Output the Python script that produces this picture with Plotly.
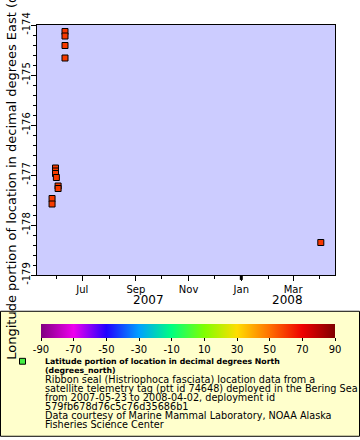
import plotly.graph_objects as go

# ---- data ----
times = ["2007-05-27", "2007-05-27", "2007-05-31", "2007-05-31", "2007-05-31",
         "2007-06-01", "2007-06-03", "2007-06-03", "2007-06-11", "2007-06-11",
         "2007-06-11", "2007-06-11", "2008-04-02"]
lon = [-177.47, -177.58, -176.86, -176.92, -176.97,
       -177.05, -177.22, -177.27, -174.13, -174.22,
       -174.41, -174.66, -178.35]
lat = [59.5, 59.4, 59.8, 59.7, 59.7, 59.6, 59.5, 59.5, 60.1, 60.0, 59.9, 59.8, 60.2]

y_ticks = [-179, -178, -177, -176, -175, -174]
y_tick_text = ["-179", "-178", "-177", "-176", "-175", "-174"]
cbar_ticks = [-90, -70, -50, -30, -10, 10, 30, 50, 70, 90]
cbar_tick_text = ["-90", "-70", "-50", "-30", "-10", "10", "30", "50", "70", "90"]
year_labels = ["2007", "2008"]
year_pos = ["2007-09-16", "2008-02-24"]

legend_title_lines = [
    "<b>Latitude portion of location in decimal degrees North</b>",
    "<b>(degrees_north)</b>",
]
legend_lines = [
    "Ribbon seal (Histriophoca fasciata) location data from a",
    "satellite telemetry tag (ptt id 74648) deployed in the Bering Sea",
    "from 2007-05-23 to 2008-04-02, deployment id",
    "579fb678d76c5c76d35686b1",
    "Data courtesy of Marine Mammal Laboratory, NOAA Alaska",
    "Fisheries Science Center",
]
ytitle = "Longitude portion of location in decimal degrees East (degrees_east)"

# ---- layout geometry (pixels) ----
W, H = 360, 440
L, R, T, B = 37, 335, 20, 275
PW, PH = R - L, B - T


def px_x(p):
    return (p - L) / PW


def px_y(p):
    return (B - p) / PH


FONT = "DejaVu Sans"

colorscale = [
    [0 / 9, "#800080"], [1 / 9, "#ee00ee"], [2 / 9, "#2000ff"], [3 / 9, "#00a0ff"],
    [4 / 9, "#00ff80"], [5 / 9, "#80ff00"], [6 / 9, "#ffdd00"], [7 / 9, "#ff7000"],
    [8 / 9, "#ee0000"], [9 / 9, "#800000"],
]

fig = go.Figure()
fig.add_trace(go.Scatter(
    x=times, y=lon, mode="markers",
    marker=dict(
        symbol="square", size=6, color=lat, colorscale=colorscale,
        cmin=-90, cmax=90, line=dict(color="black", width=1),
        colorbar=dict(
            orientation="h", x=px_x(41), xanchor="left", y=px_y(325), yanchor="top",
            len=294, lenmode="pixels", thickness=14, thicknessmode="pixels",
            xpad=0, ypad=0, outlinewidth=0,
            tickvals=cbar_ticks, ticktext=cbar_tick_text,
            ticks="outside", ticklen=3, tickcolor="black",
            tickfont=dict(family=FONT, size=10, color="black"),
        ),
    ),
    showlegend=False,
))

shapes = [
    # legend box
    dict(type="rect", xref="paper", yref="paper",
         x0=px_x(0.5), x1=px_x(359.5), y0=px_y(312), y1=px_y(439.5),
         fillcolor="#ffffcc", line=dict(color="black", width=1), layer="below"),
    # legend marker
    dict(type="rect", xref="paper", yref="paper",
         x0=px_x(19.5), x1=px_x(25.5), y0=px_y(360), y1=px_y(366),
         fillcolor="#44ee44", line=dict(color="black", width=1)),
    # bold Jan tick
    dict(type="line", xref="x", yref="paper", x0="2008-01-01", x1="2008-01-01",
         y0=0, y1=px_y(280), line=dict(color="black", width=3)),
]

annotations = []
all_lines = [(t, 7.8) for t in legend_title_lines] + [(t, 9.7) for t in legend_lines]
for i, (t, fs) in enumerate(all_lines):
    annotations.append(dict(
        text=t, xref="paper", yref="paper", x=px_x(43), y=px_y(363.3 + 9.1 * i),
        xanchor="left", yanchor="middle", showarrow=False,
        font=dict(family=FONT, size=fs, color="black")))
for lbl, pos in zip(year_labels, year_pos):
    annotations.append(dict(
        text=lbl, xref="x", yref="paper", x=pos, y=px_y(301),
        xanchor="center", yanchor="middle", showarrow=False,
        font=dict(family=FONT, size=12, color="black")))
annotations.append(dict(
    text=ytitle, xref="paper", yref="paper", x=px_x(12), y=px_y(364),
    xanchor="center", yanchor="bottom", textangle=-90, showarrow=False,
    font=dict(family=FONT, size=13, color="black")))

fig.update_layout(
    width=W, height=H,
    margin=dict(l=L, r=W - R, t=T, b=H - B, pad=0),
    paper_bgcolor="white", plot_bgcolor="#ccccff",
    font=dict(family=FONT, size=10, color="black"),
    shapes=shapes, annotations=annotations,
    xaxis=dict(
        type="date", range=["2007-05-09 14:00", "2008-04-18 10:00"],
        tick0="2007-07-01", dtick="M2", tickformat="%b",
        ticks="outside", ticklen=5, tickcolor="black", tickwidth=1,
        showgrid=False, zeroline=False, showline=True, linecolor="black", linewidth=1,
        mirror=True, tickfont=dict(family=FONT, size=10),
        minor=dict(dtick="M1", tick0="2007-06-01", ticks="outside", ticklen=3,
                   tickcolor="black", showgrid=False),
    ),
    yaxis=dict(
        range=[-179, -174], tickvals=y_ticks, ticktext=y_tick_text,
        ticks="outside", ticklen=5, tickcolor="black", tickangle=-90,
        ticklabelstandoff=-3,
        showgrid=False, zeroline=False, showline=True, linecolor="black", linewidth=1,
        mirror=True, tickfont=dict(family=FONT, size=10),
        minor=dict(dtick=0.2, tick0=-179, ticks="outside", ticklen=3, tickcolor="black",
                   showgrid=False),
    ),
)

fig.write_html("out.html", config={"displayModeBar": False},
               post_script="document.body.style.margin='0';")
